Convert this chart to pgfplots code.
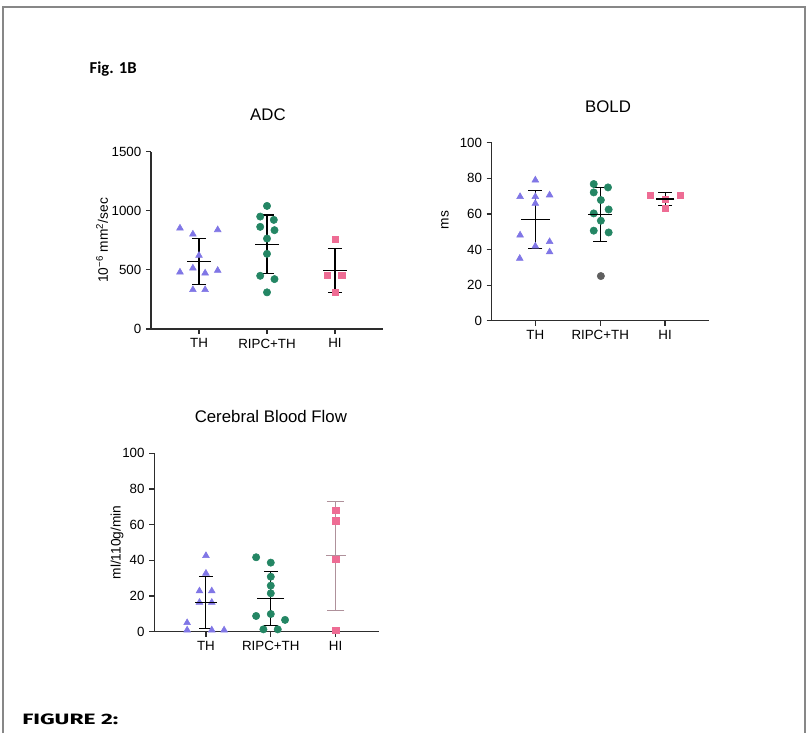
\documentclass[border=0pt]{standalone}
\usepackage{pgfplots}
\pgfplotsset{compat=1.18}
\usepackage{fontspec}
\setmainfont{Liberation Sans}
\newfontfamily\calibri{Carlito}
\newfontfamily\firafont{Fira Sans}
\definecolor{tri}{RGB}{128,118,230}
\definecolor{teal}{RGB}{36,134,100}
\definecolor{pinkm}{RGB}{238,108,148}
\definecolor{grayp}{RGB}{95,95,95}
\definecolor{framegray}{RGB}{135,135,135}
\definecolor{axisc}{RGB}{45,45,45}
\definecolor{hibar}{RGB}{175,145,155}

\pgfplotsset{
  myaxis/.style={
    scale only axis,
    axis x line*=bottom, axis y line*=left,
    axis line style={axisc, line width=0.9pt},
    tick style={axisc, line width=0.9pt},
    tick align=outside,
    major tick length=3.75pt,
    xtick={1,2,3},
    xticklabels={TH,RIPC+TH,HI},
    ymin=0,
    clip=false,
    ticklabel style={font=\fontsize{10}{12}\selectfont, text=black},
    /pgf/number format/assume math mode=true,
    /pgf/number format/1000 sep={},
    title style={font=\fontsize{12.6}{14}\selectfont, anchor=center},
    ylabel style={font=\fontsize{10.3}{12}\selectfont, anchor=center},
  },
  trim/.style={only marks, mark=triangle*, mark size=2.9pt, mark options={draw=tri, fill=tri}},
  circ/.style={only marks, mark=*, mark size=2.75pt, mark options={draw=teal, fill=teal}},
  sq/.style={only marks, mark=square*, mark size=2.4pt, mark options={draw=pinkm, fill=pinkm}},
  msd/.style={only marks, mark=-, mark size=#1, mark options={draw=black, line width=0.8pt},
    error bars/.cd, y dir=both, y explicit, error mark=|,
    error mark options={black, mark size=5.25pt, line width=0.8pt},
    error bar style={black, line width=0.8pt}},
  msd/.default=9pt,
}

\begin{document}
\begin{tikzpicture}
\useasboundingbox (0,0) rectangle (604.5pt,549.75pt);
\fill[white] (0,0) rectangle (604.5pt,549.75pt);
\draw[framegray, line width=1.1pt] (2.25pt,0) -- (2.25pt,544.5pt) -- (603.75pt,544.5pt) -- (603.75pt,0);

\node[anchor=base west, font=\calibri\bfseries\fontsize{12.5}{14}\selectfont] at (63.75pt,494.25pt) {Fig. 1B};
\node[anchor=base west, inner sep=0pt] at (16.5pt,6.75pt) {\resizebox{72pt}{8pt}{\firafont\bfseries FIGURE 2:}};

% ---------------- ADC ----------------
\begin{axis}[myaxis,
  at={(113.25pt,303pt)}, anchor=south west,
  width=174pt, height=133pt,
  xmin=0.294, xmax=3.706,
  ymax=1500, ytick={0,500,1000,1500},
  title={ADC}, title style={at={(axis description cs:0.504,1.162)}},
  ylabel={10\textsuperscript{−6} mm\textsuperscript{2}/sec},
  ylabel style={at={(axis description cs:-0.211,0.5)}},
]
\addplot[trim] coordinates {
 (0.72,853) (0.91,802) (1.275,839) (1,622) (0.72,481) (0.91,515) (1.09,473) (1.275,495) (0.91,332) (1.09,332)};
\addplot[circ] coordinates {
 (2,1041) (1.9,951) (2.1,923) (1.9,864) (2.11,836) (2,765) (2,636) (1.9,450) (2.11,422) (2,310)};
\addplot[sq] coordinates {
 (3,760) (2.89,453) (3.1,453) (3,310)};
\addplot[msd] coordinates {(1,574) +- (0,195)};
\addplot[msd] coordinates {(2,715) +- (0,249)};
\addplot[msd] coordinates {(3,495) +- (0,187)};
\end{axis}

% ---------------- BOLD ----------------
\begin{axis}[myaxis,
  at={(368.8pt,309.2pt)}, anchor=south west,
  width=163pt, height=133.5pt,
  xmin=0.328, xmax=3.678,
  ymax=100, ytick={0,20,40,60,80,100},
  title={BOLD}, title style={at={(axis description cs:0.535,1.156)}},
  ylabel={ms},
  ylabel style={at={(axis description cs:-0.215,0.566)}},
]
\addplot[trim] coordinates {
 (0.76,35.0) (0.765,48.1) (0.765,69.7) (1,79.0) (1,69.7) (1,65.9) (1,41.9) (1.22,70.6) (1.22,44.4) (1.22,38.6)};
\addplot[circ] coordinates {
 (1.9,76.8) (2.12,74.9) (1.9,72.1) (2.01,67.8) (2.13,62.5) (1.9,60.3) (2.01,56.2) (1.9,50.6) (2.13,49.6)};
\addplot[only marks, mark=*, mark size=2.75pt, mark options={draw=grayp, fill=grayp}] coordinates {(2.01,25.1)};
\addplot[sq] coordinates {
 (2.77,70.6) (3.23,70.6) (3.0,68.2) (3.0,63.1)};
\addplot[msd=11pt] coordinates {(1,56.9) +- (0,16.3)};
\addplot[msd] coordinates {(2,59.7) +- (0,15.2)};
\addplot[msd=7pt] coordinates {(3,68.4) +- (0,3.75)};
\end{axis}

% ---------------- CBF ----------------
\begin{axis}[myaxis,
  at={(115.7pt,76pt)}, anchor=south west,
  width=168.5pt, height=133.8pt,
  xmin=0.203, xmax=3.668,
  ymax=100, ytick={0,20,40,60,80,100},
  title={Cerebral Blood Flow}, title style={at={(axis description cs:0.519,1.159)}},
  ylabel={ml/110g/min},
  ylabel style={at={(axis description cs:-0.166,0.5)}},
]
\addplot[trim] coordinates {
 (1,42.6) (1,32.7) (0.9,22.8) (1.09,22.8) (0.9,16.4) (1.09,16.4) (0.71,5.0) (0.71,0.9) (1.09,0.9) (1.28,0.9)};
\addplot[circ] coordinates {
 (1.774,41.7) (2,38.7) (2,30.8) (2,25.8) (2,21.5) (1.774,8.8) (2,9.9) (2.22,6.6) (1.886,1.3) (2.108,1.3)};
\addplot[sq] coordinates {
 (3,68.2) (3,62.1) (3,40.7) (3,0.9)};
\addplot[msd=8pt] coordinates {(1,16.4) +- (0,14.75)};
\addplot[msd=10pt] coordinates {(2,18.7) +- (0,15)};
\addplot[only marks, mark=-, mark size=7.5pt, mark options={draw=hibar, line width=0.6pt},
    error bars/.cd, y dir=both, y explicit, error mark=|,
    error mark options={hibar, mark size=6.5pt, line width=0.6pt},
    error bar style={hibar, line width=0.6pt}] coordinates {(3,42.6) +- (0,30.4)};
\end{axis}
\end{tikzpicture}
\end{document}
